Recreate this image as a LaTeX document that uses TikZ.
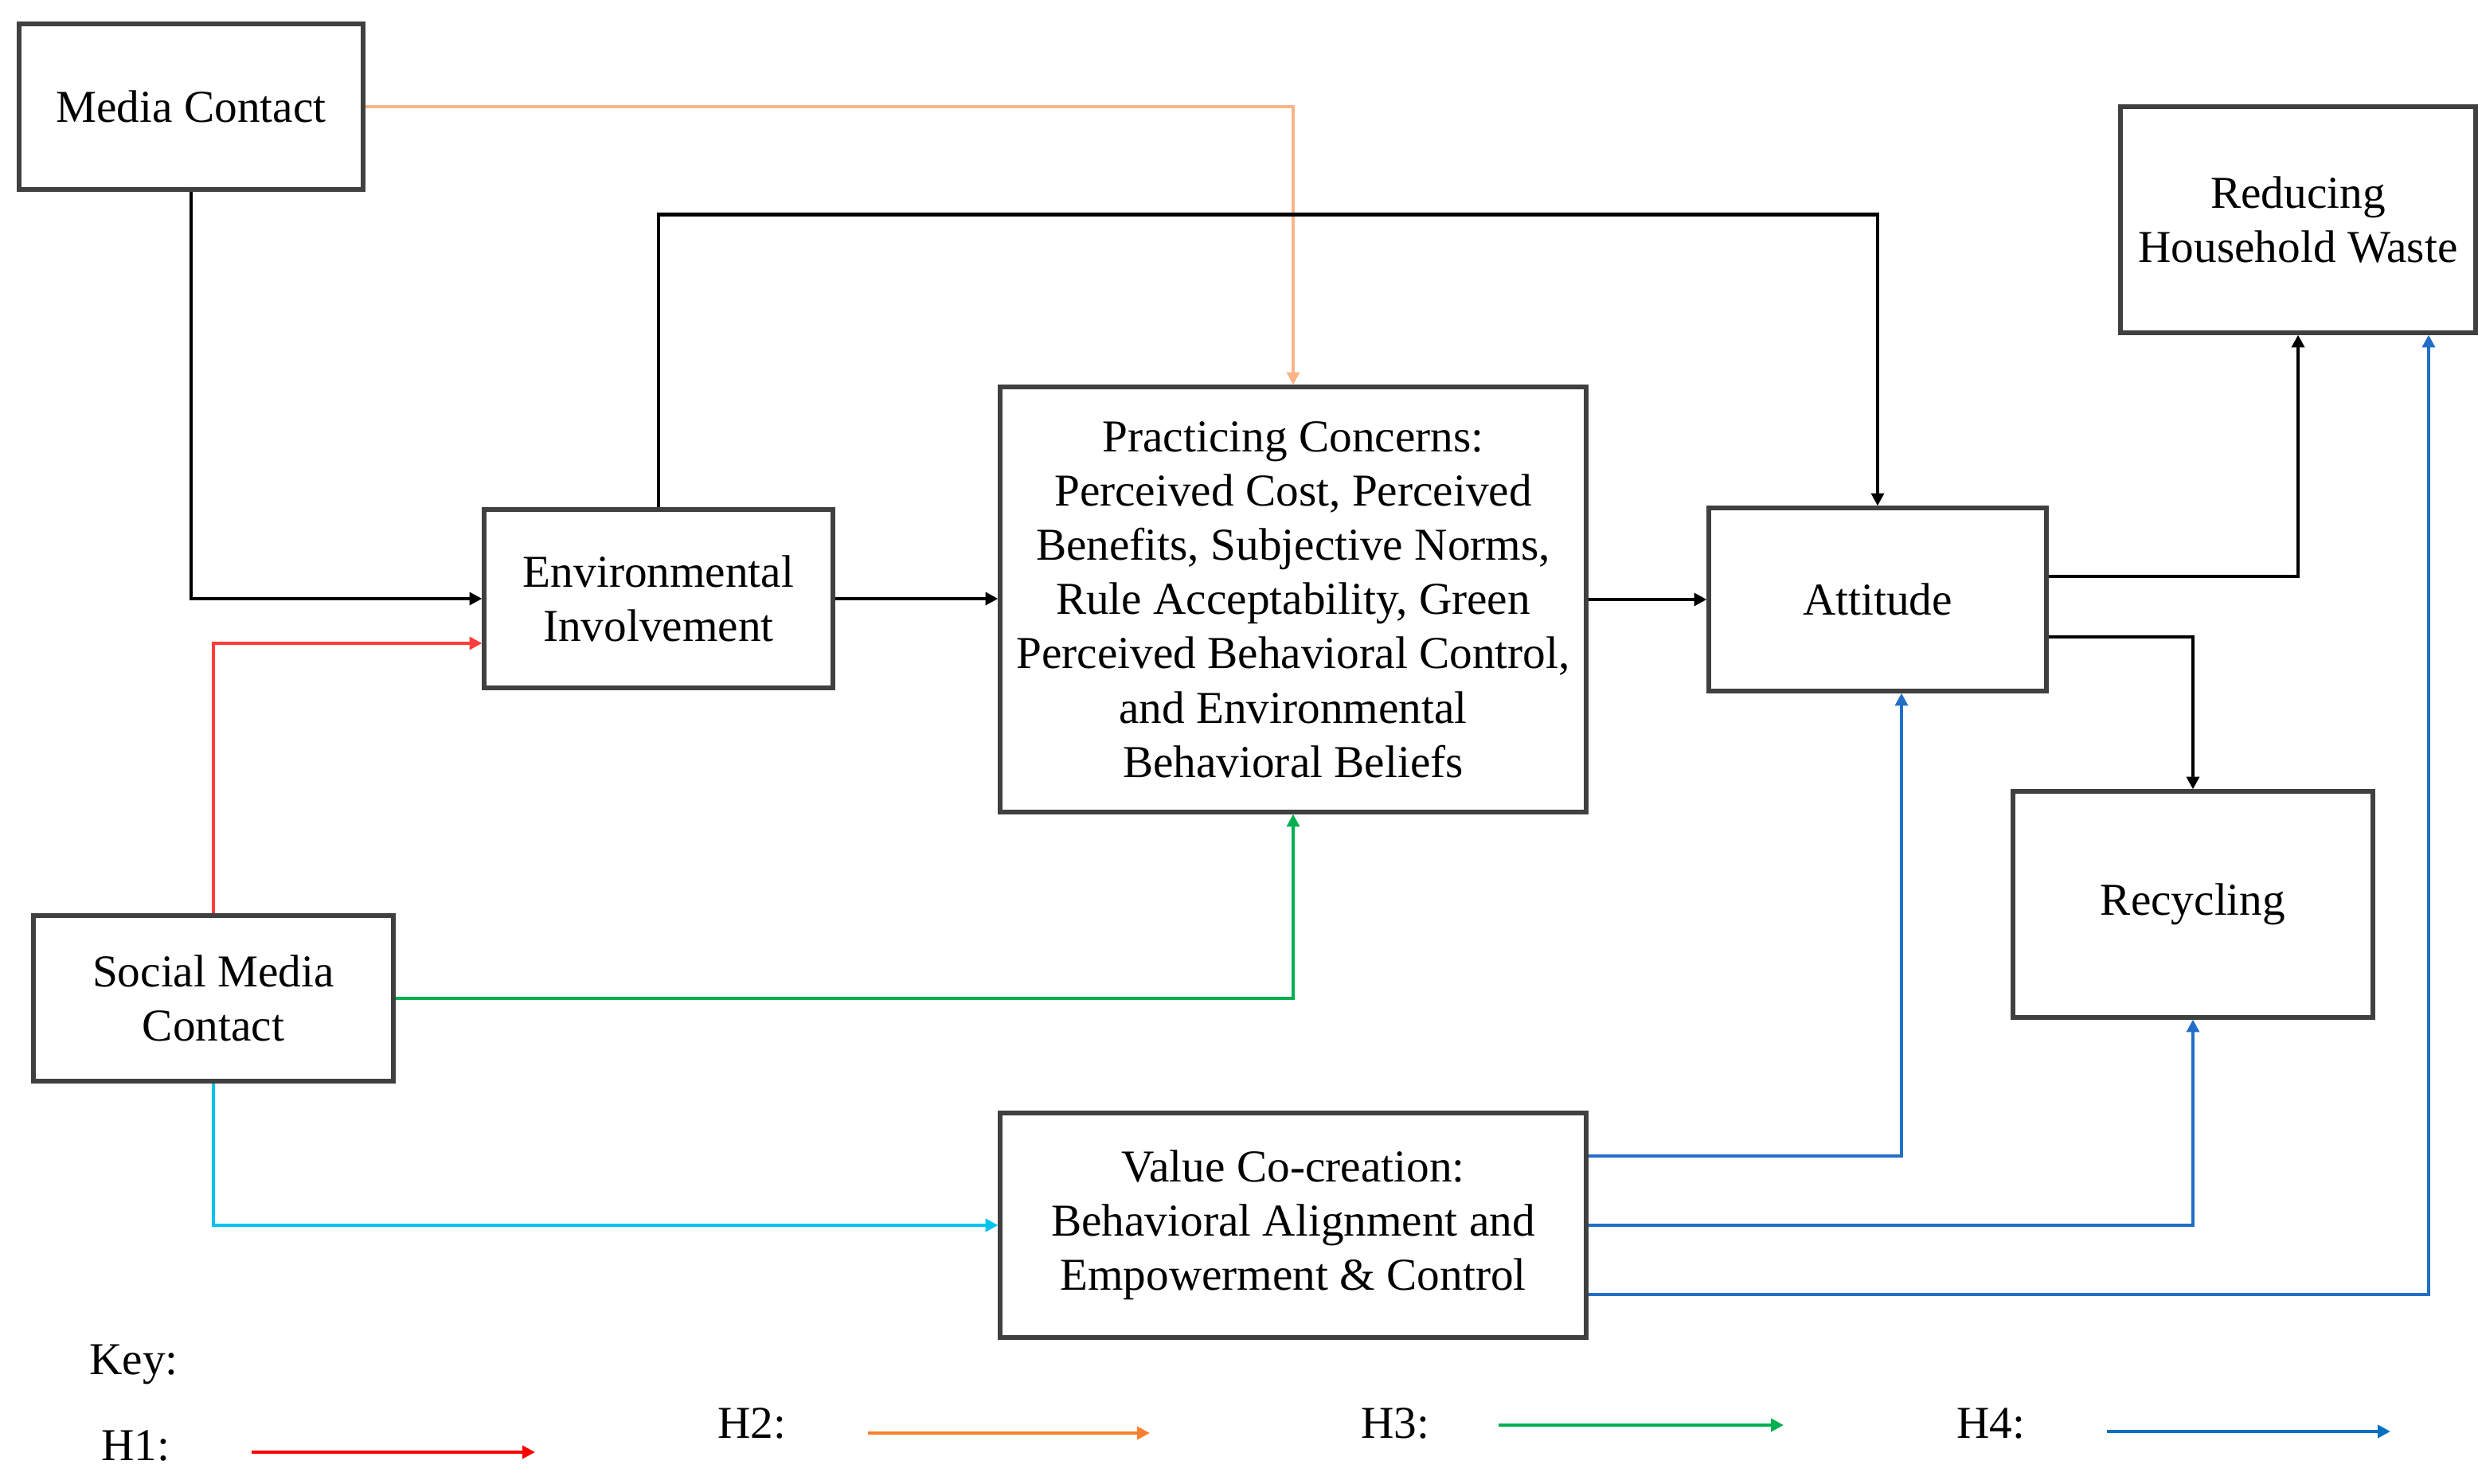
\documentclass[tikz,border=0pt]{standalone}
\usepackage{fontspec}
\setmainfont{Liberation Serif}
\usetikzlibrary{arrows.meta}
\definecolor{hone}{RGB}{255,60,60}
\definecolor{honekey}{RGB}{255,0,0}
\definecolor{htwo}{RGB}{250,180,135}
\definecolor{htwokey}{RGB}{248,128,48}
\definecolor{hthree}{RGB}{0,176,80}
\definecolor{hcyan}{RGB}{0,195,240}
\definecolor{hfour}{RGB}{35,110,200}
\definecolor{hfourkey}{RGB}{0,112,192}
\begin{document}
\begin{tikzpicture}[x = 0.02cm, y = -0.02cm, font = \fontsize{16.3}{19.4}\selectfont,
		block/.style = {draw = black!75, line width = 1.5pt, align = center, inner sep = 0pt},
		link/.style = {line width = 1.25pt, -{Triangle[length = 4.5pt, width = 4.5pt]}}]
		\useasboundingbox (0, 0) rectangle (1556, 932);
		%%%%%%%%%%%%%
		\node[block, minimum width = 4.32cm, minimum height = 2.08cm] (mc) at (120, 67) {Media Contact};
		\node[block, minimum width = 4.38cm, minimum height = 2.24cm] (env) at (413.5, 376) {Environmental\\Involvement};
		\node[block, minimum width = 7.36cm, minimum height = 5.34cm] (prac) at (812, 376.5) {Practicing Concerns:\\Perceived Cost, Perceived\\Benefits, Subjective Norms,\\Rule Acceptability, Green\\Perceived Behavioral Control,\\and Environmental\\Behavioral Beliefs};
		\node[block, minimum width = 4.24cm, minimum height = 2.30cm] (att) at (1179, 376.5) {Attitude};
		\node[block, minimum width = 4.46cm, minimum height = 2.84cm] (waste) at (1443, 138) {Reducing\\Household Waste};
		\node[block, minimum width = 4.52cm, minimum height = 2.84cm] (rec) at (1377, 568) {Recycling};
		\node[block, minimum width = 4.52cm, minimum height = 2.08cm] (smc) at (134, 627) {Social Media\\Contact};
		\node[block, minimum width = 7.36cm, minimum height = 2.82cm] (vcc) at (812, 769.5) {Value Co-creation:\\Behavioral Alignment and\\Empowerment \& Control};
		%%%%%%%%%%%%%
		\draw[link] (mc.south) |- (env.west);
		\draw[link, htwo] (mc.east) -| (prac.north);
		\draw[link] (env.north) -- ++(0, -184) -| (att.north);
		\draw[link] (env.east) -- (prac.west |- env.east); \draw[link] (prac.east) -- (att.west);
		\draw[link] ([yshift = 0.29cm]att.east) -| (waste.south);
		\draw[link] ([yshift = -0.47cm]att.east) -| (rec.north);
		\draw[link, hone] (smc.north) |- ([yshift = -0.56cm]env.west);
		\draw[link, hthree] (smc.east) -| (prac.south);
		\draw[link, hcyan] (smc.south) |- (vcc.west);
		\draw[link, hfour] ([yshift = 0.87cm]vcc.east) -| ([xshift = 0.3cm]att.south);
		\draw[link, hfour] (vcc.east) -| (rec.south);
		\draw[link, hfour] ([yshift = -0.87cm]vcc.east) -| ([xshift = 1.64cm]waste.south);
		%%%%%%%%%%%%%
		\node (key) at (84, 857) {Key:};
		\node (hone) at (85, 908) {H1:}; \node (htwo) at (472, 894) {H2:};
		\node (hthree) at (876, 894) {H3:}; \node (hfour) at (1250, 894) {H4:};
		\coordinate (ka) at (158, 912); \coordinate (kb) at (336, 912);
		\coordinate (kc) at (545, 900); \coordinate (kd) at (722, 900);
		\coordinate (ke) at (941, 895); \coordinate (kf) at (1120, 895);
		\coordinate (kg) at (1323, 899); \coordinate (kh) at (1501, 899);
		\draw[link, honekey] (ka) -- (kb); \draw[link, htwokey] (kc) -- (kd);
		\draw[link, hthree] (ke) -- (kf); \draw[link, hfourkey] (kg) -- (kh);
\end{tikzpicture}
\end{document}
